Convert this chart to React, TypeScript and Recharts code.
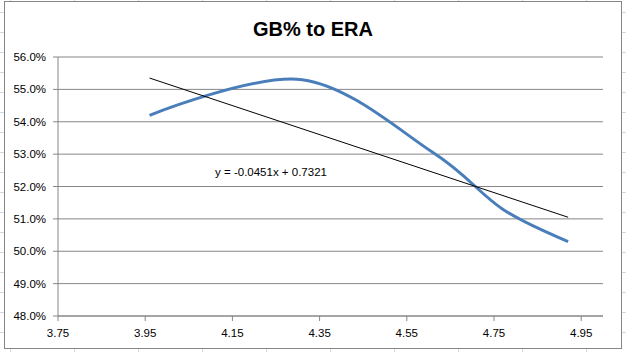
import React from "react";
import { LineChart, Line, XAxis, YAxis, CartesianGrid } from "recharts";

const eraValues = [3.96, 4.31, 4.61, 4.77, 4.92];
const gbValues = [0.542, 0.553, 0.5305, 0.513, 0.503];
const trendEra = [3.96, 4.92];
const trendGb = [0.5535, 0.5105];
const xTicks = [3.75, 3.95, 4.15, 4.35, 4.55, 4.75, 4.95];
const yTicks = [0.48, 0.49, 0.5, 0.51, 0.52, 0.53, 0.54, 0.55, 0.56];
const titleText = "GB% to ERA";
const equationText = "y = -0.0451x + 0.7321";

const data = eraValues.map((x, i) => ({ x, y: gbValues[i] }));
const trendData = trendEra.map((x, i) => ({ x, t: trendGb[i] }));

// Catmull-Rom style (cardinal, tension 0) smoothing similar to Excel's smoothed line
class CardinalCurve {
  _context: any;
  _k: number;
  _line: number = NaN;
  _point = 0;
  _x0 = NaN; _x1 = NaN; _x2 = NaN;
  _y0 = NaN; _y1 = NaN; _y2 = NaN;
  constructor(context: any, tension: number) {
    this._context = context;
    this._k = (1 - tension) / 6;
  }
  areaStart() { this._line = 0; }
  areaEnd() { this._line = NaN; }
  lineStart() {
    this._x0 = this._x1 = this._x2 = this._y0 = this._y1 = this._y2 = NaN;
    this._point = 0;
  }
  lineEnd() {
    switch (this._point) {
      case 2: this._context.lineTo(this._x2, this._y2); break;
      case 3: this.bez(this._x1, this._y1); break;
    }
    if (this._line || (this._line !== 0 && this._point === 1)) this._context.closePath();
    this._line = 1 - this._line;
  }
  bez(x: number, y: number) {
    this._context.bezierCurveTo(
      this._x1 + this._k * (this._x2 - this._x0),
      this._y1 + this._k * (this._y2 - this._y0),
      this._x2 + this._k * (this._x1 - x),
      this._y2 + this._k * (this._y1 - y),
      this._x2,
      this._y2
    );
  }
  point(xx: any, yy: any) {
    const x = +xx, y = +yy;
    switch (this._point) {
      case 0:
        this._point = 1;
        if (this._line) this._context.lineTo(x, y); else this._context.moveTo(x, y);
        break;
      case 1:
        this._point = 2;
        this._x1 = x; this._y1 = y;
        break;
      case 2:
        this._point = 3;
        this.bez(x, y);
        break;
      default:
        this.bez(x, y);
        break;
    }
    this._x0 = this._x1; this._x1 = this._x2; this._x2 = x;
    this._y0 = this._y1; this._y1 = this._y2; this._y2 = y;
  }
}
const smoothCurve: any = (context: any) => new CardinalCurve(context, 0);

const FONT = "'Liberation Sans', Arial, sans-serif";

export default function App() {
  return (
    <div
      style={{
        position: "absolute",
        left: 0,
        top: 0,
        width: 626,
        height: 352,
        overflow: "hidden",
        background: "#fff",
        backgroundImage:
          "linear-gradient(to right, #d0d7e5 1px, transparent 1px), linear-gradient(to bottom, #d0d7e5 1px, transparent 1px)",
        backgroundSize: "64px 20px",
        backgroundPosition: "10px 12px",
      }}
    >
      <div
        style={{
          position: "absolute",
          left: 4,
          top: 1,
          width: 616,
          height: 346,
          border: "1px solid #868686",
          background: "#fff",
        }}
      />
      <div style={{ position: "absolute", left: 0, top: 0 }}>
        <LineChart
          width={626}
          height={352}
          data={data}
          margin={{ top: 57, right: 23, left: 0, bottom: 0 }}
        >
          <text
            x={313}
            y={36}
            textAnchor="middle"
            style={{ fontFamily: FONT, fontSize: 20, fontWeight: 700 }}
            fill="#000"
          >
            {titleText}
          </text>
          <CartesianGrid horizontal vertical={false} stroke="#868686" strokeWidth={1} />
          <XAxis
            dataKey="x"
            type="number"
            domain={[3.75, 5.0]}
            ticks={xTicks}
            allowDataOverflow
            height={36}
            tickSize={5}
            tickMargin={8}
            interval={0}
            tickFormatter={(v: number) => v.toFixed(2)}
            axisLine={{ stroke: "#868686" }}
            tickLine={{ stroke: "#868686" }}
            tick={{ fill: "#000", fontSize: 11.5, fontFamily: FONT }}
          />
          <YAxis
            type="number"
            domain={[0.48, 0.56]}
            ticks={yTicks}
            allowDataOverflow
            width={58}
            tickSize={5}
            tickMargin={7}
            interval={0}
            tickFormatter={(v: number) => (v * 100).toFixed(1) + "%"}
            axisLine={{ stroke: "#868686" }}
            tickLine={{ stroke: "#868686" }}
            tick={{ fill: "#000", fontSize: 11.5, fontFamily: FONT }}
          />
          <Line
            dataKey="y"
            type={smoothCurve}
            stroke="#4A7EBB"
            strokeWidth={3}
            dot={false}
            activeDot={false}
            isAnimationActive={false}
          />
          <Line
            data={trendData}
            dataKey="t"
            type="linear"
            stroke="#000"
            strokeWidth={1}
            dot={false}
            activeDot={false}
            isAnimationActive={false}
          />
          <text
            x={271}
            y={175.5}
            textAnchor="middle"
            style={{ fontFamily: FONT, fontSize: 11.5 }}
            fill="#000"
          >
            {equationText}
          </text>
        </LineChart>
      </div>
    </div>
  );
}
